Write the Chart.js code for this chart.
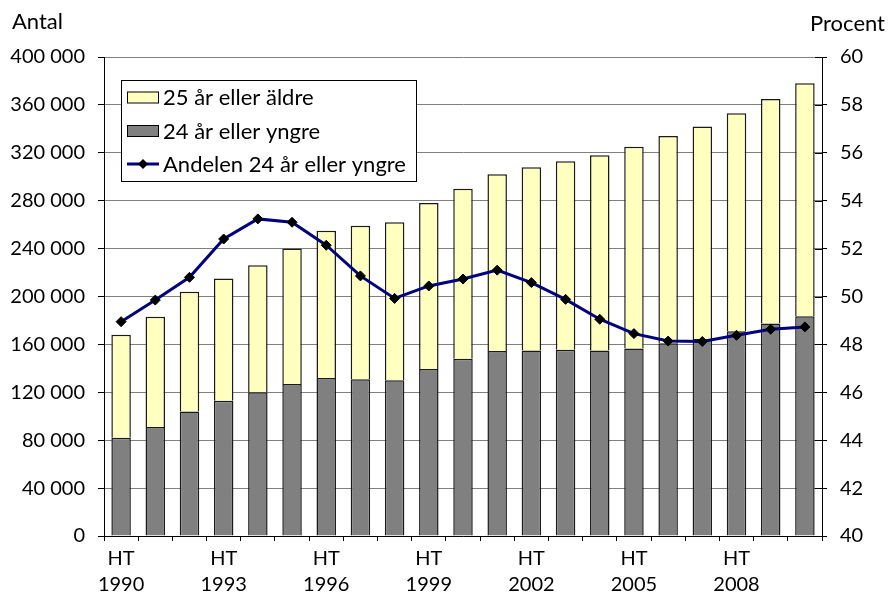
<!DOCTYPE html>
<html>
<head>
<meta charset="utf-8">
<script src="https://cdn.jsdelivr.net/npm/chart.js@4/dist/chart.umd.min.js"></script>
<style>
  html, body { margin: 0; padding: 0; background: #fff; }
  #wrap { width: 888px; height: 597px; }
</style>
</head>
<body>
<div id="wrap"><canvas id="c" width="888" height="597"></canvas></div>
<script>
const years = [1990, 1991, 1992, 1993, 1994, 1995, 1996, 1997, 1998, 1999, 2000,
               2001, 2002, 2003, 2004, 2005, 2006, 2007, 2008, 2009, 2010];
const young = [82000, 91000, 104000, 113000, 120000, 127000, 132000, 131000, 130000, 139500, 148000,
               154500, 155000, 155500, 155000, 156500, 161000, 164500, 171000, 177500, 183500];
const older = [86000, 92000, 100000, 102000, 106000, 113000, 123000, 128000, 132000, 138500, 142000,
               147500, 153000, 157500, 163000, 168500, 173000, 177500, 182000, 187500, 194500];
const share = [48.95, 49.85, 50.8, 52.4, 53.24, 53.1, 52.14, 50.86, 49.92, 50.44, 50.73,
               51.1, 50.58, 49.88, 49.05, 48.45, 48.14, 48.12, 48.38, 48.63, 48.73];
const labelYoung = '24 år eller yngre';
const labelOlder = '25 år eller äldre';
const labelShare = 'Andelen 24 år eller yngre';
const titleLeft = 'Antal';
const titleRight = 'Procent';
const tickPrefix = 'HT';

const FONT = 'Lato, "DejaVu Sans", sans-serif';
Chart.defaults.font.family = FONT;
Chart.defaults.font.size = 20;
Chart.defaults.color = '#000';

const decorPlugin = {
  id: 'decor',
  afterDraw(chart) {
    const ctx = chart.ctx;
    const ds = chart.data.datasets;
    ctx.save();
    ctx.font = '22px ' + FONT;
    ctx.fillStyle = '#000';
    ctx.textBaseline = 'alphabetic';
    ctx.textAlign = 'left';
    ctx.fillText(titleLeft, 12, 29);
    ctx.textAlign = 'right';
    ctx.fillText(titleRight, 885, 31);

    // inner parts of right-axis ticks
    const y1 = chart.scales.y1;
    ctx.strokeStyle = '#000';
    ctx.lineWidth = 1;
    y1.ticks.forEach((t, i) => {
      const py = Math.round(y1.getPixelForTick(i)) + 0.5;
      ctx.beginPath();
      ctx.moveTo(y1.left - 7, py);
      ctx.lineTo(y1.left, py);
      ctx.stroke();
    });

    // legend
    const lx = 121, ly = 80, lw = 295, lh = 101;
    ctx.fillStyle = '#fff';
    ctx.fillRect(lx, ly, lw, lh);
    ctx.strokeStyle = '#000';
    ctx.lineWidth = 1;
    ctx.strokeRect(lx + 0.5, ly + 0.5, lw, lh);
    const items = [ds[1], ds[0], ds[2]];
    const rows = [97, 130.5, 164];
    ctx.font = '22px ' + FONT;
    ctx.textAlign = 'left';
    ctx.textBaseline = 'middle';
    items.forEach((d, i) => {
      const cy = rows[i];
      if (d.type === 'line') {
        ctx.strokeStyle = d.borderColor;
        ctx.lineWidth = 3;
        ctx.beginPath();
        ctx.moveTo(127, cy);
        ctx.lineTo(159, cy);
        ctx.stroke();
        ctx.fillStyle = '#000';
        ctx.beginPath();
        ctx.moveTo(143, cy - 5);
        ctx.lineTo(148, cy);
        ctx.lineTo(143, cy + 5);
        ctx.lineTo(138, cy);
        ctx.closePath();
        ctx.fill();
      } else {
        ctx.fillStyle = d.backgroundColor;
        ctx.fillRect(127, cy - 5.5, 31, 11);
        ctx.strokeStyle = '#000';
        ctx.lineWidth = 1;
        ctx.strokeRect(127.5, cy - 5, 31, 11);
      }
      ctx.fillStyle = '#000';
      ctx.fillText(d.label, 163, cy + 1);
    });
    ctx.restore();
  }
};

new Chart(document.getElementById('c'), {
  type: 'bar',
  data: {
    labels: years,
    datasets: [
      {
        label: labelYoung,
        data: young,
        backgroundColor: '#808080',
        borderColor: '#1a1a1a',
        borderWidth: 1.5,
        yAxisID: 'y',
        order: 2,
        stack: 's'
      },
      {
        label: labelOlder,
        data: older,
        backgroundColor: '#FFFFC0',
        borderColor: '#1a1a1a',
        borderWidth: 1.5,
        yAxisID: 'y',
        order: 3,
        stack: 's'
      },
      {
        type: 'line',
        label: labelShare,
        data: share,
        yAxisID: 'y1',
        borderColor: '#000080',
        borderWidth: 3,
        pointStyle: 'rectRot',
        pointRadius: 5,
        pointBackgroundColor: '#000',
        pointBorderColor: '#000',
        pointBorderWidth: 1,
        tension: 0,
        order: 0
      }
    ]
  },
  options: {
    responsive: false,
    animation: false,
    layout: { padding: { top: 57, left: 0, right: 0, bottom: 0 } },
    datasets: { bar: { categoryPercentage: 1, barPercentage: 0.57 } },
    plugins: { legend: { display: false }, tooltip: { enabled: false }, title: { display: false } },
    scales: {
      x: {
        stacked: true,
        offset: true,
        grid: { display: true, drawOnChartArea: false, drawTicks: true, tickLength: 5, tickColor: '#000', offset: true },
        border: { display: true, color: '#000', width: 1 },
        ticks: {
          autoSkip: false,
          maxRotation: 0,
          minRotation: 0,
          padding: 5,
          font: { family: FONT, size: 20, lineHeight: 1.3 },
          callback: (v, i) => (i % 3 === 0 ? [tickPrefix, String(years[i])] : '')
        },
        afterFit: (s) => { s.height = 61; }
      },
      y: {
        stacked: true,
        position: 'left',
        min: 0,
        max: 400000,
        grid: { color: '#808080', lineWidth: 1, drawTicks: true, tickLength: 6, tickColor: '#000' },
        border: { display: true, color: '#000', width: 1 },
        ticks: {
          stepSize: 40000,
          padding: 13,
          font: { family: FONT, size: 20 },
          callback: (v) => (v === 0 ? '0' : Math.round(v / 1000) + ' 000')
        },
        afterFit: (s) => { s.width = 104; }
      },
      y1: {
        position: 'right',
        min: 40,
        max: 60,
        grid: { drawOnChartArea: false, drawTicks: true, tickLength: 5, tickColor: '#000' },
        border: { display: true, color: '#000', width: 1 },
        ticks: { stepSize: 2, padding: 13, font: { family: FONT, size: 20 } },
        afterFit: (s) => { s.width = 66; }
      }
    }
  },
  plugins: [decorPlugin]
});
</script>
</body>
</html>
